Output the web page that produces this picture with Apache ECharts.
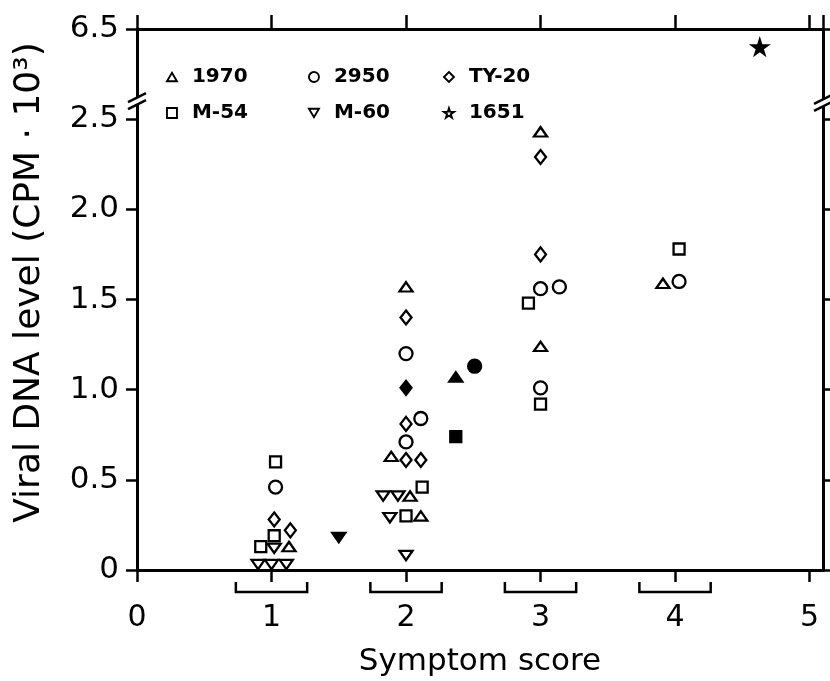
<!DOCTYPE html>
<html><head><meta charset="utf-8">
<script src="https://cdn.jsdelivr.net/npm/echarts@6/dist/echarts.min.js"></script>
<style>html,body{margin:0;padding:0;background:#fff}#c{width:830px;height:681px}</style>
</head><body><div id="c"></div>
<script>
// ---- data ----
const xTickLabels = ['0','1','2','3','4','5'];
const yTickLabels = ['0','0.5','1.0','1.5','2.0','2.5','6.5'];
const groupCenters = [1, 2, 3, 4];

const s1970 = [[1.13,0.13],[1.89,0.63],[2.03,0.41],[2.11,0.30],[2.0,1.57],[3.0,2.43],[3.0,1.24],[3.91,1.59]];
const s1970Filled = [[2.37,1.07]];
const s2950 = [[1.03,0.46],[2.0,1.20],[2.11,0.84],[2.0,0.71],[3.0,1.56],[3.14,1.57],[3.0,1.01],[4.03,1.60]];
const s2950Filled = [[2.51,1.13]];
const sTY20 = [[1.02,0.28],[1.14,0.22],[2.0,0.61],[2.11,0.61],[2.0,1.40],[2.0,0.81],[3.0,2.29],[3.0,1.75]];
const sTY20Filled = [[2.0,1.01]];
const sM54 = [[1.03,0.60],[1.02,0.19],[0.92,0.13],[2.0,0.30],[2.12,0.46],[2.91,1.48],[3.0,0.92],[4.03,1.78]];
const sM54Filled = [[2.37,0.74]];
const sM60 = [[1.02,0.12],[0.90,0.03],[1.0,0.03],[1.11,0.03],[2.0,0.08],[1.88,0.29],[1.83,0.41],[1.94,0.41]];
const sM60Filled = [[1.5,0.18]];
const s1651 = [];
const s1651Filled = [[4.63,6.3]];

// ---- broken y axis mapping (0..2.5 linear, then break, top tick = 6.5) ----
const BREAK_LOW = 2.5, AXIS_TOP = 3.0, TOP_REAL = 6.5, UPPER_SPAN = 1.0;
function toAxis(v){ return v <= BREAK_LOW ? v : AXIS_TOP - (TOP_REAL - v) * (AXIS_TOP - BREAK_LOW) / UPPER_SPAN; }

const FONT = 'DejaVu Sans';
const STAR = 'path://M50,0 L61,35 L98,35 L68,57 L79,91 L50,70 L21,91 L32,57 L2,35 L39,35 Z';
const INV_TRI = 'path://M0,0 L20,0 L10,17 Z';
const TRI = 'path://M10,0 L20,17 L0,17 Z';

function mk(name, open, filled, symbol, size){
  const data = open.map(p => [p[0], toAxis(p[1])])
    .concat(filled.map(p => ({value:[p[0], toAxis(p[1])], itemStyle:{color:'#000'}})));
  return {
    name, type:'scatter', data, symbol, symbolSize:size, symbolKeepAspect:true,
    itemStyle:{color:'#fff', borderColor:'#000', borderWidth:2.3, opacity:1},
    emphasis:{disabled:true}, z:5
  };
}

const chart = echarts.init(document.getElementById('c'), null, {renderer:'canvas'});
const legendCommon = {
  orient:'vertical', itemWidth:10, itemHeight:10, itemGap:16,
  textStyle:{fontFamily:FONT, fontSize:20, fontWeight:'bold', color:'#000', padding:[0,0,0,10]},
  itemStyle:{borderWidth:1.9},
  selectedMode:false
};
const axisLineStyle = {show:true, onZero:false, lineStyle:{color:'#000', width:3}};
const option = {
  backgroundColor:'#fff',
  animation:false,
  grid:{left:137, right:7, top:29, bottom:111, containLabel:false, outerBoundsMode:'none'},
  legend:[
    Object.assign({}, legendCommon, {left:161, top:62, data:['1970','M-54']}),
    Object.assign({}, legendCommon, {left:303, top:62, data:['2950','M-60']}),
    Object.assign({}, legendCommon, {left:438, top:62, data:['TY-20','1651']})
  ],
  xAxis:[{
    type:'value', min:0, max:5.10, interval:1, position:'bottom',
    axisLine:axisLineStyle,
    axisTick:{show:true, inside:false, length:12, lineStyle:{color:'#000', width:2.5}},
    axisLabel:{show:true, margin:33, fontFamily:FONT, fontSize:30, color:'#000',
      formatter:v => xTickLabels[Math.round(v)] || ''},
    splitLine:{show:false},
    name:'Symptom score', nameLocation:'middle', nameGap:76,
    nameTextStyle:{fontFamily:FONT, fontSize:31, color:'#000'}
  },{
    type:'value', min:0, max:5.10, interval:1, position:'top',
    axisLine:axisLineStyle,
    axisTick:{show:true, inside:false, length:14, lineStyle:{color:'#000', width:2.5}},
    axisLabel:{show:false}, splitLine:{show:false}
  }],
  yAxis:[{
    type:'value', min:0, max:AXIS_TOP, interval:0.5, position:'left',
    axisLine:axisLineStyle,
    axisTick:{show:true, inside:false, length:11, lineStyle:{color:'#000', width:2.5}},
    axisLabel:{show:true, margin:18, fontFamily:FONT, fontSize:31, color:'#000',
      formatter:v => yTickLabels[Math.round(v/0.5)] || ''},
    splitLine:{show:false},
    name:'Viral DNA level (CPM · 10³)', nameLocation:'middle', nameGap:89, nameRotate:90,
    nameTextStyle:{fontFamily:FONT, fontSize:36, color:'#000', padding:[0,0,0,34]}
  },{
    type:'value', min:0, max:AXIS_TOP, interval:0.5, position:'right',
    axisLine:axisLineStyle,
    axisTick:{show:true, inside:false, length:9, lineStyle:{color:'#000', width:2.5}},
    axisLabel:{show:false}, splitLine:{show:false}
  }],
  series:[
    mk('1970', s1970, s1970Filled, TRI, [13,11]),
    mk('2950', s2950, s2950Filled, 'circle', 13),
    mk('TY-20', sTY20, sTY20Filled, 'diamond', [11,14]),
    mk('M-54', sM54, sM54Filled, 'rect', 11),
    mk('M-60', sM60, sM60Filled, INV_TRI, [13,11]),
    mk('1651', s1651, s1651Filled, STAR, 15),
    {
      type:'custom', coordinateSystem:'cartesian2d', clip:false, silent:true,
      data: groupCenters.map(c => [c, 0]),
      renderItem(params, api){
        const c = api.value(0), hw = 0.265;
        const a = api.coord([c - hw, 0]), b = api.coord([c + hw, 0]);
        const y1 = a[1] + 12, y2 = a[1] + 22;
        return {type:'polyline', shape:{points:[[a[0],y1],[a[0],y2],[b[0],y2],[b[0],y1]]},
          style:{stroke:'#000', lineWidth:2.5, fill:null}};
      }
    }
  ]
};
chart.setOption(option);

// break marks on both vertical axes
function breakMark(x, y){
  return [
    {type:'rect', shape:{x:x-3, y:y-3, width:6, height:6}, style:{fill:'#fff'}, z:100},
    {type:'line', shape:{x1:x-9, y1:y+1, x2:x+9, y2:y-8}, style:{stroke:'#000', lineWidth:2.5}, z:101},
    {type:'line', shape:{x1:x-9, y1:y+8, x2:x+9, y2:y-1}, style:{stroke:'#000', lineWidth:2.5}, z:101}
  ];
}
const pl = chart.convertToPixel({xAxisIndex:0, yAxisIndex:0}, [0, 2.6]);
const pr = chart.convertToPixel({xAxisIndex:0, yAxisIndex:0}, [5.10, 2.59]);
chart.setOption({graphic:{elements: breakMark(pl[0], pl[1]).concat(breakMark(pr[0], pr[1]))}});
</script></body></html>
